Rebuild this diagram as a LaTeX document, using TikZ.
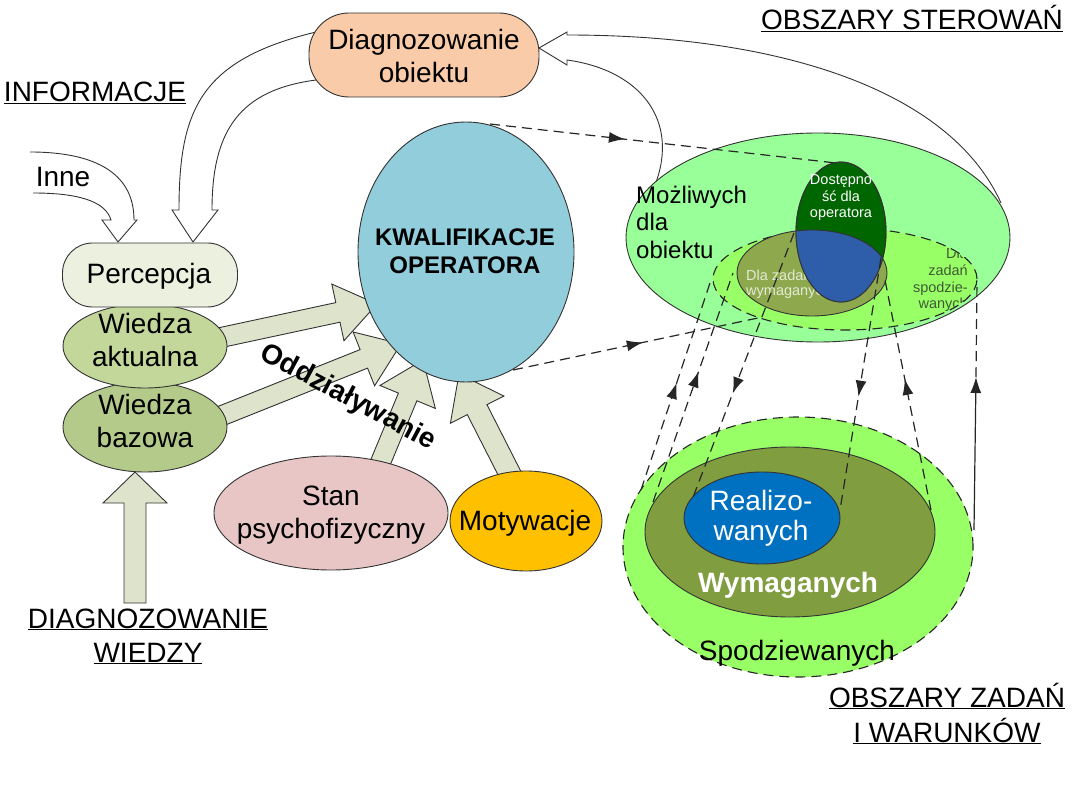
\documentclass[tikz,border=0pt]{standalone}
\usepackage{fontspec}
\setmainfont{Liberation Sans}
\usetikzlibrary{shapes.geometric,arrows.meta,decorations.markings}

\definecolor{peach}{HTML}{F9CBA9}
\definecolor{percc}{HTML}{EBF1DE}
\definecolor{wiedzaA}{HTML}{C4D79B}
\definecolor{wiedzaB}{HTML}{B4CA8B}
\definecolor{arrg}{HTML}{DDE4CB}
\definecolor{kwalc}{HTML}{92CDDC}
\definecolor{stanc}{HTML}{E8C6C6}
\definecolor{motc}{HTML}{FFC000}
\definecolor{possc}{HTML}{99FF99}
\definecolor{spodc}{HTML}{99FF66}
\definecolor{oliveA}{HTML}{8EA94D}
\definecolor{oliveB}{HTML}{809D3F}
\definecolor{dgreen}{HTML}{006600}
\definecolor{blueA}{HTML}{2E5EAA}
\definecolor{blueB}{HTML}{0070C0}
\definecolor{oltext}{HTML}{E4EAD8}
\definecolor{sptext}{HTML}{3E5A36}

\newcommand\blockarrow[5]{%
  \pgfpointdiff{\pgfpointanchor{#1}{center}}{\pgfpointanchor{#2}{center}}%
  \pgfgetlastxy{\badx}{\bady}%
  \pgfmathsetmacro\baang{atan2(\bady,\badx)}%
  \pgfmathsetmacro\balen{veclen(\badx,\bady)}%
  \begin{scope}[shift={(#1)},rotate=\baang,x=1pt,y=1pt]
    \draw[blockarr] (0,-#3) -- ({\balen-#5},-#3) -- ({\balen-#5},-#4) -- (\balen,0) -- ({\balen-#5},#4) -- ({\balen-#5},#3) -- (0,#3) -- cycle;
  \end{scope}}

\begin{document}
\begin{tikzpicture}[x=1pt,y=-1pt,
 ol/.style={draw=black!80, line width=0.9pt},
 txt/.style={font={\fontsize{28}{33}\selectfont}, align=center, inner sep=0pt},
 hollow/.style={draw=black!80, line width=0.9pt, fill=white},
 blockarr/.style={draw=black!80, line width=0.9pt, fill=arrg, line join=miter},
 ell/.style={ellipse, inner sep=0pt},
 dashell/.style={ellipse, inner sep=0pt, draw=black!85, line width=1.1pt, dash pattern=on 10pt off 6pt},
 dashcon/.style={draw=black!85, line width=1.2pt, dash pattern=on 10pt off 6pt},
 solidcon/.style={draw=black!85, line width=1.2pt},
 midarrow/.style={postaction={decorate}, decoration={markings, mark=at position #1 with {\arrow{Latex[length=16pt,width=11pt]}}}},
]
\useasboundingbox (0,0) rectangle (1080,810);

% hollow (information) arrows
\draw[hollow] (1001,203) .. controls (950,90) and (780,35) .. (567,35) -- (567,32) -- (539,48) -- (567,65) -- (567,60) .. controls (640,70) and (680,120) .. (655,185);
\draw[hollow] (316,32) .. controls (200,60) and (179,110) .. (179,210) -- (172,210) -- (193,242) -- (218,210) -- (212,210) .. controls (212,130) and (240,90) .. (316,80);
\draw[hollow] (30,152) .. controls (90,152) and (134,170) .. (134,220) -- (137,220) -- (118,242) -- (102,220) -- (111,220) .. controls (105,200) and (75,193) .. (33,193);

% Diagnozowanie obiektu
\node[ol, fill=peach, rounded corners=40pt, minimum width=230pt, minimum height=84pt] (diag) at (424,55) {};
\node[txt] (diagt) at (424,56) {Diagnozowanie\\obiektu};

% labels
\node[txt, anchor=base] (info) at (95,102) {\underline{INFORMACJE}};
\node[txt, anchor=base] (oster) at (912,30) {\underline{OBSZARY STEROWAŃ}};
\node[txt] (inne) at (63,177) {Inne};
\node[txt, anchor=base] (dw1) at (148,628) {\underline{DIAGNOZOWANIE}};
\node[txt, anchor=base] (dw2) at (148,662) {\underline{WIEDZY}};
\node[txt, anchor=base] (oz1) at (947,707) {\underline{OBSZARY ZADAŃ}};
\node[txt, anchor=base] (oz2) at (947,742) {\underline{I WARUNKÓW}};

% block arrows
\coordinate (a1s) at (200,342); \coordinate (a1e) at (377,304);
\coordinate (a2s) at (206,422); \coordinate (a2e) at (401,344);
\coordinate (a3s) at (374,478); \coordinate (a3e) at (423,360);
\coordinate (a4s) at (517,488); \coordinate (a4e) at (459,374);
\coordinate (dws) at (135,603); \coordinate (dwe) at (135,472);
\blockarrow{a1s}{a1e}{10}{29}{40}
\blockarrow{a2s}{a2e}{10}{29}{40}
\blockarrow{a3s}{a3e}{10}{30}{40}
\blockarrow{a4s}{a4e}{11}{30}{40}
\blockarrow{dws}{dwe}{11}{32}{31}

% knowledge
\node[ol, ell, fill=wiedzaB, minimum width=164pt, minimum height=90pt] (wb) at (145,427) {};
\node[ol, ell, fill=wiedzaA, minimum width=164pt, minimum height=84pt] (wa) at (145,346) {};
\node[ol, fill=percc, rounded corners=30pt, minimum width=175pt, minimum height=64pt] (perc) at (150,275) {};
\node[txt] (perct) at (149,276) {Percepcja};
\node[txt] (wat) at (145,340) {Wiedza\\aktualna};
\node[txt] (wbt) at (145,421) {Wiedza\\bazowa};

% state & motivation
\node[ol, ell, fill=stanc, minimum width=234pt, minimum height=114pt] (stan) at (331,513) {};
\node[txt] (stant) at (331,515) {Stan\\psychofizyczny};
\node[ol, ell, fill=motc, minimum width=152pt, minimum height=100pt] (mot) at (526,521) {};
\node[txt] (mott) at (525,523) {Motywacje};

% qualifications
\node[ol, ell, fill=kwalc, minimum width=216pt, minimum height=260pt] (kw) at (466,252) {};
\node[txt, font={\bfseries\fontsize{24}{28}\selectfont}] (kwt) at (465,251) {KWALIFIKACJE\\OPERATORA};

\node[inner sep=0pt, font={\bfseries\fontsize{28}{32}\selectfont}, rotate=-28] (odd) at (348,398) {Oddziaływanie};

% top right cluster
\node[ol, ell, fill=possc, minimum width=384pt, minimum height=209pt] (poss) at (818,237.5) {};
\node[dashell, fill=spodc, minimum width=264pt, minimum height=102pt] (spt) at (845,279) {};
\node[ol, ell, fill=oliveA, minimum width=150pt, minimum height=86pt] (wyt) at (812,273) {};
\node[inner sep=0pt, anchor=west, align=left, text=oltext, font={\fontsize{14.5}{15.5}\selectfont}] (wytt) at (746,284) {Dla zadań\\wymaganych};
\begin{scope}
  \clip (845,279) ellipse [x radius=131pt, y radius=50pt];
  \node[inner sep=0pt, anchor=east, align=right, text=sptext, font={\fontsize{14.5}{16.7}\selectfont}] (sptt) at (968,280) {Dla\\zadań\\spodzie-\\wanych};
\end{scope}
\node[inner sep=0pt, anchor=west, align=left, font={\fontsize{24}{27.5}\selectfont}] (posst) at (636,222) {Możliwych\\dla\\obiektu};

% dashed arrows from qualifications
\coordinate (d1s) at (490,124); \coordinate (d1e) at (836,163);
\coordinate (d2s) at (513,370); \coordinate (d2e) at (758,318);
\draw[dashcon, midarrow=0.39] (d1s) -- (d1e);
\draw[dashcon, midarrow=0.53] (d2s) -- (d2e);

\node[ol, ell, fill=dgreen, minimum width=90pt, minimum height=140pt] (dost) at (841,232) {};
\begin{scope}
  \clip (841,232) ellipse [x radius=45pt, y radius=70pt];
  \fill[blueA] (812,273) ellipse [x radius=75pt, y radius=43pt];
  \draw[ol] (812,273) ellipse [x radius=75pt, y radius=43pt];
\end{scope}
\draw[ol] (841,232) ellipse [x radius=45pt, y radius=70pt];
\node[inner sep=0pt, align=center, text=white, font={\fontsize{14.5}{16.5}\selectfont}] (dostt) at (841,198) {Dostępno\\ść dla\\operatora};

% bottom cluster
\node[dashell, fill=spodc, minimum width=350pt, minimum height=260pt] (spb) at (798,547) {};
\node[ol, ell, fill=oliveB, minimum width=290pt, minimum height=170pt] (wyb) at (790,532) {};
\node[ol, ell, fill=blueB, minimum width=156pt, minimum height=92pt] (reb) at (762,518) {};
\node[txt, text=white, font={\fontsize{28}{30}\selectfont}] (rebt) at (761,518) {Realizo-\\wanych};
\node[txt, text=white, font={\bfseries\fontsize{28}{33}\selectfont}] (wybt) at (788,585) {Wymaganych};
\node[txt] (spbt) at (797,653) {Spodziewanych};

% connectors between areas
\coordinate (l1b) at (641,490); \coordinate (l1t) at (711,280);
\coordinate (l2b) at (653,502); \coordinate (l2t) at (733,273);
\coordinate (l3t) at (794,233); \coordinate (l3b) at (692,500);
\coordinate (l4t) at (881,258); \coordinate (l4b) at (840,510);
\coordinate (l5b) at (931,510); \coordinate (l5t) at (885,280);
\coordinate (l6b) at (974,530); \coordinate (l6m) at (976,377); \coordinate (l6t) at (977,281);
\draw[dashcon, midarrow=0.51] (l1b) -- (l1t);
\draw[dashcon, midarrow=0.57] (l2b) -- (l2t);
\draw[dashcon, midarrow=0.6] (l3t) -- (l3b);
\draw[dashcon, midarrow=0.55] (l4t) -- (l4b);
\draw[dashcon, midarrow=0.57] (l5b) -- (l5t);
\draw[solidcon, -{Latex[length=16pt,width=11pt]}] (l6b) -- (l6m);
\draw[dashcon] (l6m) -- (l6t);
\end{tikzpicture}
\end{document}
